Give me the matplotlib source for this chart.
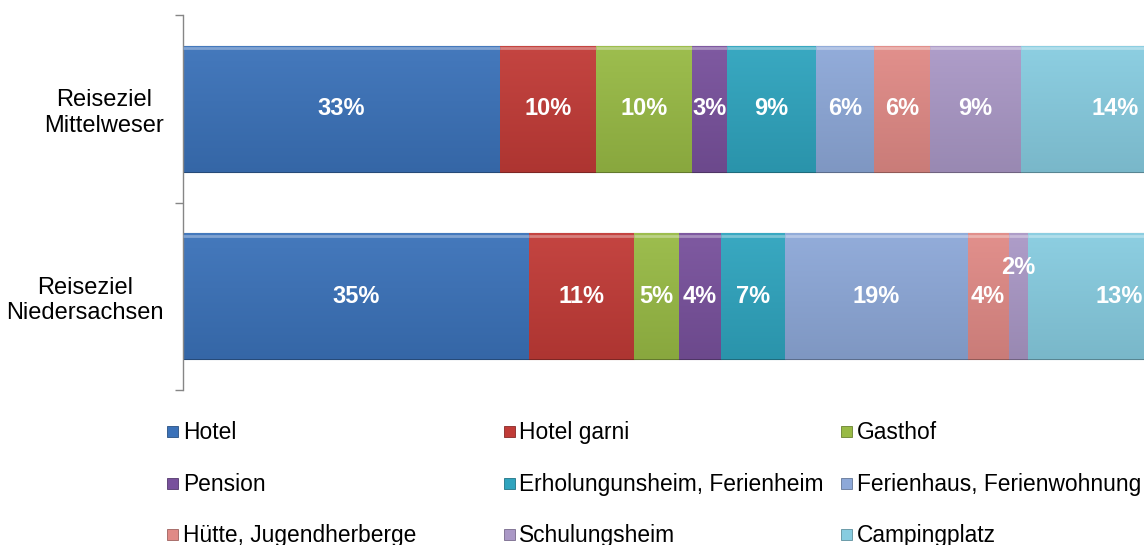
import matplotlib
matplotlib.use("Agg")
import matplotlib.pyplot as plt
import numpy as np
from matplotlib.patches import Rectangle
from matplotlib.colors import to_rgb

plt.rcParams['font.family'] = ['Liberation Sans', 'DejaVu Sans']

# ---------------- data ----------------
regions = ["Reiseziel\nNiedersachsen", "Reiseziel\nMittelweser"]
categories = ["Hotel", "Hotel garni", "Gasthof", "Pension",
              "Erholungunsheim, Ferienheim", "Ferienhaus, Ferienwohnung",
              "Hütte, Jugendherberge", "Schulungsheim", "Campingplatz"]
share_niedersachsen = [33.7, 10.2, 4.4, 4.1, 6.2, 17.8, 4.0, 1.9, 17.7]
share_mittelweser = [30.9, 9.3, 9.4, 3.4, 8.6, 5.7, 5.4, 8.9, 18.4]
labels_niedersachsen = ["35%", "11%", "5%", "4%", "7%", "19%", "4%", "2%", "13%"]
labels_mittelweser = ["33%", "10%", "10%", "3%", "9%", "6%", "6%", "9%", "14%"]

colors = ["#3B72B9", "#C13B37", "#98BA45", "#78519C", "#2FA4BE",
          "#8DA8D8", "#E08A86", "#AA98C6", "#87CCE0"]

W, H = 1144, 545
fig = plt.figure(figsize=(W / 100, H / 100), dpi=100)
ax = fig.add_axes([183 / W, 1 - 390 / H, 1027 / W, 375 / H])

data = np.array([share_niedersachsen, share_mittelweser])
labels = [labels_niedersachsen, labels_mittelweser]
y = np.arange(len(regions))
left = np.zeros(len(regions))


def shade(c, f):
    r = np.array(to_rgb(c))
    if f >= 0:
        return tuple(r + (1 - r) * f)
    return tuple(r * (1 + f))


for i, cat in enumerate(categories):
    bars = ax.barh(y, data[:, i], left=left, height=0.67, color=colors[i],
                   edgecolor=shade(colors[i], -0.35), linewidth=0.8, zorder=2)
    for b in bars:
        x0, y0, w, h = b.get_x(), b.get_y(), b.get_width(), b.get_height()
        top = np.array(shade(colors[i], 0.05))
        bot = np.array(shade(colors[i], -0.10))
        t = np.linspace(0, 1, 64)[:, None]
        grad = (top[None, :] * (1 - t) + bot[None, :] * t)[:, None, :]
        im = ax.imshow(grad, extent=[x0, x0 + w, y0, y0 + h], aspect='auto',
                       origin='upper', zorder=2.5, interpolation='bilinear')
        im.set_clip_path(b)
        # bevel highlight on top edge
        ax.plot([x0, x0 + w], [y0 + h - 0.012, y0 + h - 0.012],
                color=shade(colors[i], 0.35), lw=2, zorder=2.6,
                solid_capstyle='butt')
    for j, b in enumerate(bars):
        cx = b.get_x() + b.get_width() / 2
        cy = b.get_y() + b.get_height() / 2
        dy = 0.0
        if j == 0 and i == 7:
            dy = 0.155
        ax.text(cx, cy + dy, labels[j][i], ha='center', va='center',
                color='white', fontsize=17, fontweight='bold', zorder=5)
    left += data[:, i]

ax.set_xlim(0, 100)
ax.set_ylim(-0.5, 1.5)
for s in ['top', 'right', 'bottom']:
    ax.spines[s].set_visible(False)
ax.spines['left'].set_color('#868686')
ax.spines['left'].set_linewidth(1.0)
ax.set_xticks([])
ax.set_yticks(y)
ax.set_yticklabels(regions, fontsize=17, multialignment='center')
ax.tick_params(axis='y', which='major', length=0, pad=14)
ax.set_yticks([-0.5, 0.5, 1.5], minor=True)
ax.tick_params(axis='y', which='minor', length=6, color='#868686', width=1.0,
               direction='out')

# legend
col_marker = [167, 504, 841]
col_text = [183, 519, 857]
row_y = [431, 483, 534]
ms = 11
for i, cat in enumerate(categories):
    r, c = divmod(i, 3)
    yc = row_y[r]
    fig.patches.append(Rectangle((col_marker[c] / W, 1 - (yc + ms / 2) / H),
                                 ms / W, ms / H, transform=fig.transFigure,
                                 facecolor=colors[i],
                                 edgecolor=shade(colors[i], -0.3),
                                 linewidth=0.6))
    fig.text(col_text[c] / W, 1 - (yc + 8) / H, cat, ha='left', va='baseline',
             fontsize=16.4, color='black')

fig.savefig("out.png", dpi=100)
